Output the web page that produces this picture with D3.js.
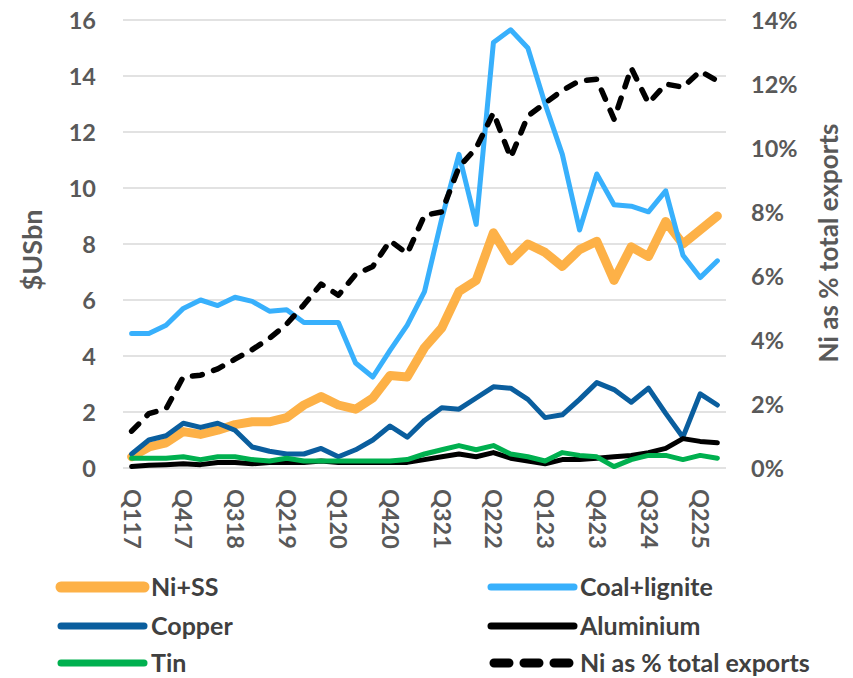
<!DOCTYPE html>
<html><head><meta charset="utf-8">
<script src="https://cdn.jsdelivr.net/npm/d3@7"></script>
<style>
body{margin:0;background:#fff;}
text{font-family:Lato,"Open Sans",sans-serif;font-weight:700;}
</style></head>
<body><svg id="c" width="853" height="678"></svg>
<script>
const quarters = ["Q117","Q217","Q317","Q417","Q118","Q218","Q318","Q418","Q119","Q219","Q319","Q419",
"Q120","Q220","Q320","Q420","Q121","Q221","Q321","Q421","Q122","Q222","Q322","Q422",
"Q123","Q223","Q323","Q423","Q124","Q224","Q324","Q424","Q125","Q225","Q325"];
const tickLabels = ["Q117","Q417","Q318","Q219","Q120","Q420","Q321","Q222","Q123","Q423","Q324","Q225"];
const leftTicks = [0,2,4,6,8,10,12,14,16];
const rightTicks = [0,2,4,6,8,10,12,14];

const niSS = [0.4,0.75,0.9,1.3,1.2,1.35,1.55,1.65,1.65,1.8,2.25,2.55,2.25,2.1,2.5,3.3,3.25,4.3,5.0,6.3,6.7,8.4,7.4,8.0,7.7,7.2,7.8,8.1,6.7,7.9,7.55,8.8,8.0,8.5,9.0];
const coal = [4.8,4.8,5.1,5.7,6.0,5.8,6.1,5.95,5.6,5.65,5.2,5.2,5.2,3.75,3.25,4.2,5.1,6.3,8.9,11.2,8.7,15.2,15.65,15.0,13.0,11.2,8.5,10.5,9.4,9.35,9.15,9.9,7.6,6.8,7.4];
const copper = [0.5,1.0,1.15,1.6,1.45,1.6,1.35,0.75,0.6,0.5,0.5,0.7,0.4,0.65,1.0,1.5,1.1,1.7,2.15,2.1,2.5,2.9,2.85,2.45,1.8,1.9,2.45,3.05,2.8,2.35,2.85,1.95,1.1,2.65,2.25];
const aluminium = [0.05,0.1,0.12,0.15,0.12,0.2,0.2,0.15,0.2,0.2,0.2,0.25,0.2,0.2,0.2,0.2,0.2,0.3,0.4,0.5,0.4,0.55,0.35,0.25,0.15,0.3,0.3,0.35,0.4,0.45,0.55,0.7,1.05,0.95,0.9];
const tin = [0.35,0.35,0.35,0.4,0.3,0.4,0.4,0.3,0.25,0.35,0.25,0.25,0.25,0.25,0.25,0.25,0.3,0.5,0.65,0.8,0.65,0.8,0.5,0.4,0.25,0.55,0.45,0.4,0.05,0.3,0.45,0.45,0.3,0.45,0.35];
const niPct = [1.15,1.7,1.85,2.85,2.9,3.1,3.4,3.7,4.05,4.5,5.1,5.75,5.4,6.05,6.3,7.1,6.7,7.9,8.0,9.4,10.0,11.1,9.7,11.0,11.4,11.8,12.1,12.15,10.9,12.5,11.4,12.0,11.9,12.4,12.1];

const seriesNames = ["Ni+SS","Coal+lignite","Copper","Aluminium","Tin","Ni as % total exports"];
const seriesColors = ["#FDB147","#38B0FC","#0A5E9E","#000000","#00B04F","#000000"];

const svg = d3.select("#c");
const x = d3.scalePoint().domain(quarters).range([123,726]).padding(0.5);
const yL = d3.scaleLinear().domain([0,16]).range([468,20]);
const yR = d3.scaleLinear().domain([0,14]).range([468,20]);
const txt = "#595959";
const tickFont = "23.5px";

// gridlines
svg.append("g").selectAll("line").data(leftTicks).join("line")
  .attr("x1",123).attr("x2",726).attr("y1",d=>yL(d)).attr("y2",d=>yL(d))
  .attr("stroke","#D9D9D9").attr("stroke-width",1.3);

// left axis
const gl = svg.append("g").attr("transform","translate(96,0)")
  .call(d3.axisLeft(yL).tickValues(leftTicks).tickSize(0).tickPadding(0));
gl.select(".domain").remove();
gl.selectAll("text").attr("fill",txt).style("font-size",tickFont).attr("dy","0.36em");

// right axis
const gr = svg.append("g").attr("transform","translate(751,0)")
  .call(d3.axisRight(yR).tickValues(rightTicks).tickSize(0).tickPadding(0).tickFormat(d=>d+"%"));
gr.select(".domain").remove();
gr.selectAll("text").attr("fill",txt).style("font-size",tickFont).attr("dy","0.36em");

// x axis
const gx = svg.append("g").attr("transform","translate(0,489)")
  .call(d3.axisBottom(x).tickValues(tickLabels).tickSize(0).tickPadding(0));
gx.select(".domain").remove();
gx.selectAll("text").attr("fill",txt).style("font-size",tickFont)
  .attr("text-anchor","start").attr("dy","0.36em").attr("y",0)
  .attr("transform","rotate(90)");

// axis titles
svg.append("text").attr("transform","translate(42,250) rotate(-90)")
  .attr("text-anchor","middle").attr("fill",txt).style("font-size","27px").text("$USbn");
svg.append("text").attr("transform","translate(838,243) rotate(-90)")
  .attr("text-anchor","middle").attr("fill",txt).style("font-size","26px").text("Ni as % total exports");

const lineL = d3.line().x((d,i)=>x(quarters[i])).y(d=>yL(d));
const lineR = d3.line().x((d,i)=>x(quarters[i])).y(d=>yR(d));

const plot = [
  {data:niSS, w:9},
  {data:coal, w:5},
  {data:copper, w:5},
  {data:aluminium, w:5},
  {data:tin, w:5}
];
plot.forEach((p,k)=>{
  svg.append("path").attr("d",lineL(p.data)).attr("fill","none")
    .attr("stroke",seriesColors[k]).attr("stroke-width",p.w)
    .attr("stroke-linejoin","round").attr("stroke-linecap","round");
});
svg.append("path").attr("d",lineR(niPct)).attr("fill","none")
  .attr("stroke","#000").attr("stroke-width",5.5)
  .attr("stroke-dasharray","10,12").attr("stroke-linecap","round").attr("stroke-linejoin","round");

// legend
const rowsY = [587,587,626,626,663,663];
seriesNames.forEach((n,k)=>{
  const ly = rowsY[k];
  const px = k%2===0 ? 61 : 491;
  const tx = k%2===0 ? 151 : 580;
  const l = svg.append("line").attr("x1",px).attr("x2",px+83).attr("y1",ly).attr("y2",ly)
    .attr("stroke",seriesColors[k]).attr("stroke-linecap","round")
    .attr("stroke-width", k===0?11:7);
  if(k===5) l.attr("stroke-dasharray","15,15").attr("stroke-width",9).attr("x1",px+3).attr("x2",px+80);
  svg.append("text").attr("x",tx).attr("y",ly).attr("dy","0.36em")
    .attr("fill","#404040").style("font-size","25px").text(n);
});
</script></body></html>
